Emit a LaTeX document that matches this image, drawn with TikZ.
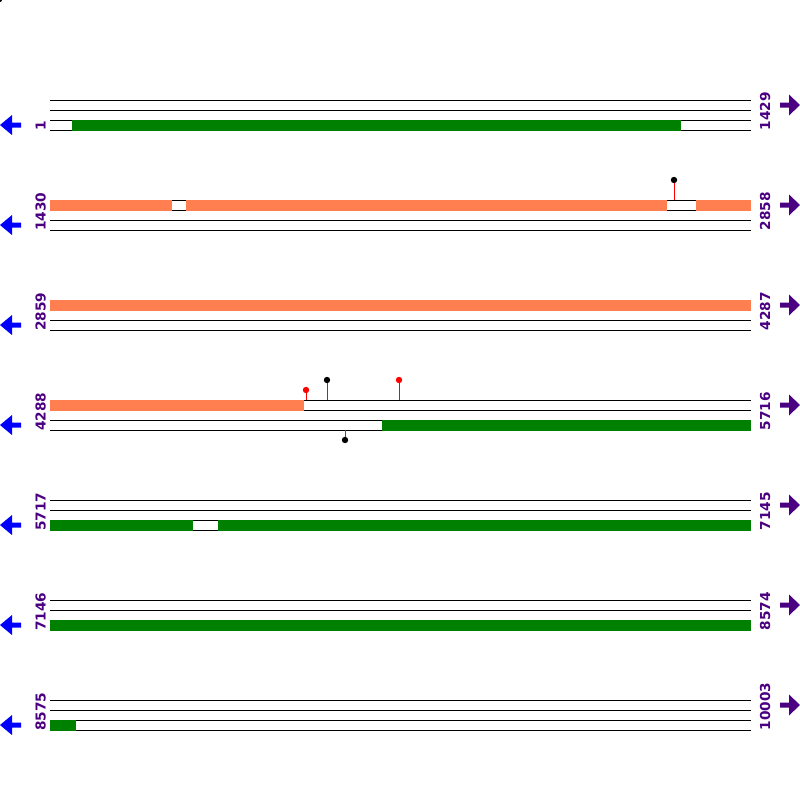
\documentclass[tikz,border=0pt]{standalone}
\usepackage{fontspec}
\setmainfont{DejaVu Sans}
\definecolor{bargreen}{RGB}{0,128,0}
\definecolor{barcoral}{RGB}{255,127,80}
\definecolor{labelpurple}{RGB}{75,0,130}
\tikzset{
  seqline/.style={black, line width=1pt},
  poslabel/.style={rotate=90, anchor=base west, inner sep=0pt, text=labelpurple, font=\fontsize{13.7}{14}\selectfont\bfseries},
  stick/.style={red, line width=1pt},
}
\newcommand{\pin}[3]{% x, dot y, colour
  \fill [#3] (#1,#2) circle (3.2);
}
\begin{document}
\begin{tikzpicture}[x=1pt,y=-1pt]
\useasboundingbox (0,0) rectangle (800,800);
\fill [white] (0,0) rectangle (800,800);
\fill [black] (0,0) circle (2);
% four lines, labels and arrows of every row
\foreach \y/\first/\last in {100/1/1429,200/1430/2858,300/2859/4287,400/4288/5716,500/5717/7145,600/7146/8574,700/8575/10003} {
  \foreach \k in {0,10,20,30}
    \draw [seqline] (50,\y+\k) -- (751,\y+\k);
  \node [poslabel] (left\first) at (45.5,\y+31) {\first};
  \node [poslabel] (right\last) at (770,\y+30.5) {\last};
  \fill [blue] (0,\y+25) -- (12,\y+15) -- (12,\y+22.5) -- (21,\y+22.5) -- (21,\y+27.5) -- (12,\y+27.5) -- (12,\y+35) -- cycle;
  \fill [labelpurple] (800,\y+5) -- (789,\y-5.5) -- (789,\y+2.5) -- (780,\y+2.5) -- (780,\y+7.5) -- (789,\y+7.5) -- (789,\y+15.5) -- cycle;
}
% row 1
\fill [bargreen] (72,119.5) rectangle (681,130.5);
% row 2
\fill [barcoral] (50,199.5) rectangle (172,210.5);
\fill [barcoral] (186,199.5) rectangle (667,210.5);
\fill [barcoral] (696,199.5) rectangle (751,210.5);
\draw [stick] (674,180) -- (674,200);
\pin{674}{180}{black}
% row 3
\fill [barcoral] (50,299.5) rectangle (751,310.5);
% row 4
\fill [barcoral] (50,399.5) rectangle (304,410.5);
\fill [bargreen] (382,419.5) rectangle (751,430.5);
\draw [stick] (306,390) -- (306,400);
\draw [stick] (327,380) -- (327,400);
\draw [stick] (399,380) -- (399,400);
\draw [stick] (345,430) -- (345,440);
\pin{306}{390}{red}
\pin{327}{380}{black}
\pin{399}{380}{red}
\pin{345}{440}{black}
% row 5
\fill [bargreen] (50,519.5) rectangle (193,530.5);
\fill [bargreen] (218,519.5) rectangle (751,530.5);
% row 6
\fill [bargreen] (50,619.5) rectangle (751,630.5);
% row 7
\fill [bargreen] (50,719.5) rectangle (76,730.5);
\end{tikzpicture}
\end{document}
